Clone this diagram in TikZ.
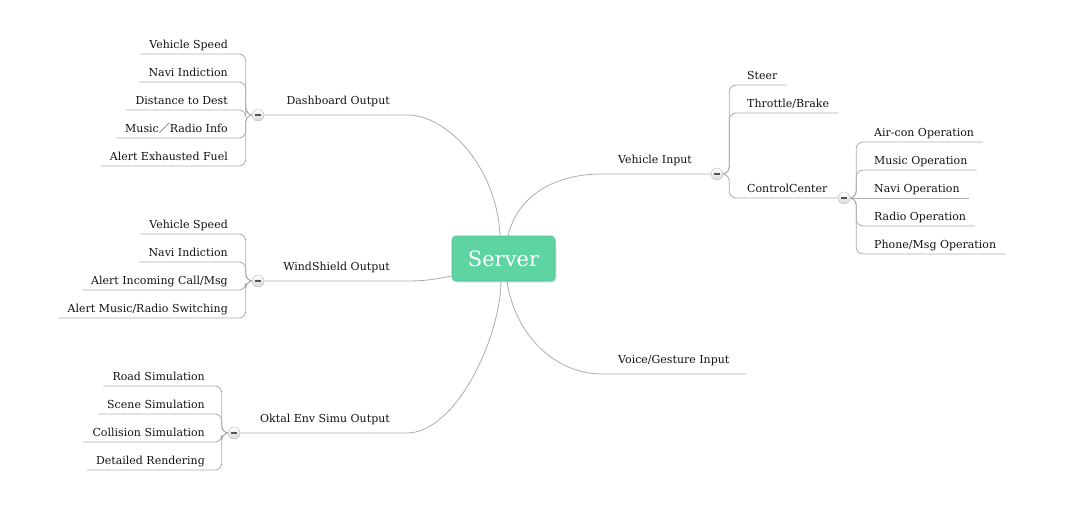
\documentclass[tikz,border=0pt]{standalone}
\usepackage{fontspec}
\setmainfont{DejaVu Serif}
\newfontfamily\cjkfont{Noto Sans CJK SC}
\usetikzlibrary{shadows,backgrounds}
\definecolor{linegray}{RGB}{172,172,172}
\definecolor{txt}{RGB}{18,18,18}
\definecolor{srv}{RGB}{94,212,163}
\definecolor{srvedge}{RGB}{80,192,147}
\begin{document}
\begin{tikzpicture}[x=1pt,y=-1pt,
  conn/.style={draw=linegray, line width=0.8pt},
  brk/.style={conn, rounded corners=7pt},
  topic/.style={font=\fontsize{11}{13}\selectfont, text=txt, inner ysep=3pt, inner xsep=9pt, text height=8.5pt, text depth=2.5pt},
  lkid/.style={topic, anchor=south east},
  rkid/.style={topic, anchor=south west},
  lmain/.style={topic, anchor=south east, inner xsep=17pt, inner ysep=8pt},
  rmain/.style={topic, anchor=south west, inner xsep=16pt, inner ysep=8pt},
  fold/.style={circle, minimum size=12pt, inner sep=0pt, draw=gray!55, top color=white, bottom color=gray!30,
    path picture={\draw[line width=1.5pt, gray!65!black] ([xshift=-2.6pt]path picture bounding box.center) -- ([xshift=2.6pt]path picture bounding box.center);}},
  root/.style={rounded corners=4pt, fill=srv, draw=srvedge, line width=0.6pt, minimum width=103pt, minimum height=45pt,
    text=white, font=\fontsize{21}{24}\selectfont, drop shadow={shadow xshift=1.5pt, shadow yshift=-1.5pt, opacity=0.25}}
]
\useasboundingbox (0,0) rectangle (1088,504);

\node[root] (server) at (503.5,258.5) {Server};

% main branches
\node[lmain] (dash) at (407,115) {Dashboard Output};
\node[lmain] (wind) at (407,281) {WindShield Output};
\node[lmain] (oktal) at (407,433) {Oktal Env Simu Output};
\node[rmain] (vin) at (602,174) {Vehicle Input};
\node[rmain] (voice) at (602,374) {Voice/Gesture Input};

% dashboard children
\node[lkid] (d1) at (237,54) {Vehicle Speed};
\node[lkid] (d2) at (237,82) {Navi Indiction};
\node[lkid] (d3) at (237,110) {Distance to Dest};
\node[lkid] (d4) at (237,138) {Music{\cjkfont ／}Radio Info};
\node[lkid] (d5) at (237,166) {Alert Exhausted Fuel};

% windshield children
\node[lkid] (w1) at (237,234) {Vehicle Speed};
\node[lkid] (w2) at (237,262) {Navi Indiction};
\node[lkid] (w3) at (237,290) {Alert Incoming Call/Msg};
\node[lkid] (w4) at (237,318) {Alert Music/Radio Switching};

% oktal children
\node[lkid] (o1) at (214,386) {Road Simulation};
\node[lkid] (o2) at (214,414) {Scene Simulation};
\node[lkid] (o3) at (214,442) {Collision Simulation};
\node[lkid] (o4) at (214,470) {Detailed Rendering};

% vehicle input children
\node[rkid] (v1) at (738,85) {Steer};
\node[rkid] (v2) at (738,113) {Throttle/Brake};
\node[rkid] (v3) at (738,198) {ControlCenter};

% control center children
\node[rkid] (c1) at (865,142) {Air-con Operation};
\node[rkid] (c2) at (865,170) {Music Operation};
\node[rkid] (c3) at (865,198) {Navi Operation};
\node[rkid] (c4) at (865,226) {Radio Operation};
\node[rkid] (c5) at (865,254) {Phone/Msg Operation};

% fold markers
\node[fold] (fD) at (258,115) {};
\node[fold] (fW) at (258,281) {};
\node[fold] (fO) at (234,433) {};
\node[fold] (fV) at (717,174) {};
\node[fold] (fC) at (844,198) {};

\begin{scope}[on background layer]
\draw[conn] ([xshift=-3.5pt]server.north) .. controls (497,168) and (448,115) .. (dash.south east) -- (fD.east);
\draw[conn] ([xshift=4.5pt]server.north) .. controls (518,195) and (555,174) .. (vin.south west) -- (fV.west);
\draw[conn] ([yshift=-17.5pt]server.west) .. controls (440,278) and (430,281) .. (wind.south east) -- (fW.east);
\draw[conn] ([xshift=-2.5pt]server.south) .. controls (500,340) and (455,433) .. (oktal.south east) -- (fO.east);
\draw[conn] ([xshift=3.5pt]server.south) .. controls (515,335) and (555,374) .. (voice.south west) -- (voice.south east);

\foreach \n in {d1,d2,d3,d4,d5} \draw[brk] (fD.west) -- ++(-6,0) |- (\n.south west);
\foreach \n in {w1,w2,w3,w4} \draw[brk] (fW.west) -- ++(-6,0) |- (\n.south west);
\foreach \n in {o1,o2,o3,o4} \draw[brk] (fO.west) -- ++(-6,0) |- (\n.south west);
\foreach \n in {v1,v2} \draw[brk] (fV.east) -- ++(6,0) |- (\n.south east);
\draw[brk] (fV.east) -- ++(6,0) |- (fC.west);
\foreach \n in {c1,c2,c4,c5} \draw[brk] (fC.east) -- ++(6,0) |- (\n.south east);
\draw[conn] (fC.east) -- (c3.south east);
\end{scope}
\end{tikzpicture}
\end{document}
